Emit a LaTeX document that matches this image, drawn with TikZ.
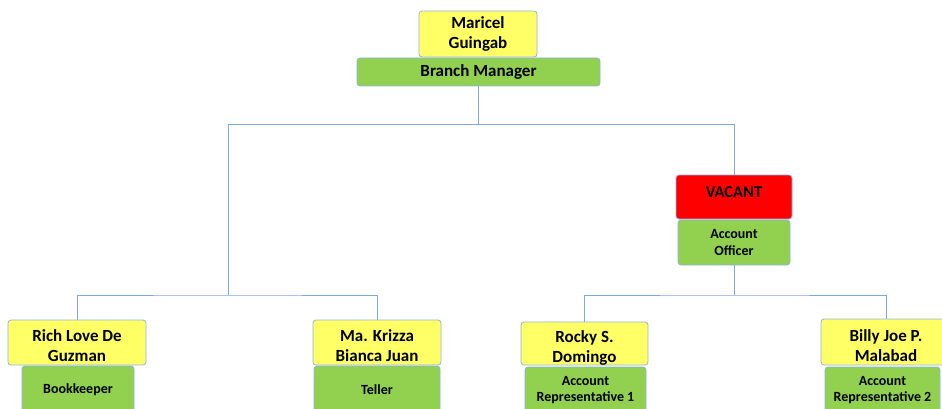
\documentclass[tikz,border=0pt]{standalone}
\usepackage{fontspec}
\setmainfont{Carlito}
\newcommand{\twoline}[3]{\raisebox{#1}[\height][\depth]{\begin{tabular}{@{}c@{}}#2\\#3\end{tabular}}}
\begin{document}
\begin{tikzpicture}[x=1pt,y=1pt,
  box/.style={draw=bordc, line width=0.8pt, rounded corners=3pt, align=center, inner sep=0pt},
  namebox/.style={box, fill=yelc, font=\bfseries\fontsize{17}{20}\selectfont},
  bnamebox/.style={draw=bordc, line width=0.8pt, rounded corners=3pt, inner sep=0pt, fill=yelc, font=\bfseries\fontsize{17}{20}\selectfont},
  rolebox/.style={box, fill=grnc, font=\bfseries\fontsize{14}{16.5}\selectfont},
  vacbox/.style={draw=bordc, line width=0.8pt, rounded corners=3pt, inner sep=0pt, fill=redc, font=\bfseries\fontsize{16.5}{20}\selectfont},
  link/.style={draw=linec, line width=0.9pt}]
\definecolor{bordc}{HTML}{8EB4E3}
\definecolor{linec}{HTML}{7FA8DC}
\definecolor{yelc}{HTML}{FFFF66}
\definecolor{grnc}{HTML}{92D050}
\definecolor{redc}{HTML}{FF0000}
\useasboundingbox (0,0) rectangle (942,-409);
\clip (0,0) rectangle (942,-409);
\fill[white] (0,0) rectangle (942,-409);

% coordinates
\coordinate (jL) at (228,-124);
\coordinate (jR) at (734,-124);
\coordinate (kL) at (228,-295);
\coordinate (kR) at (734,-295);

% top
\node[namebox, minimum width=118pt, minimum height=46pt] (mg) at (478,-34) {Maricel\\Guingab};
\node[rolebox, font=\bfseries\fontsize{17}{20}\selectfont, minimum width=243pt, minimum height=28pt] (bm) at (478.5,-72) {Branch Manager};

% vacant / account officer
\node[vacbox, minimum width=116pt, minimum height=44pt] (vac) at (734,-197) {\raisebox{5pt}[\height][\depth]{VACANT}};
\node[rolebox, minimum width=112pt, minimum height=45pt] (ao) at (734,-242.5) {Account\\Officer};

% bottom names
\node[bnamebox, minimum width=138pt, minimum height=45pt] (rich) at (77,-342.5) {\twoline{-5pt}{Rich Love De}{Guzman}};
\node[bnamebox, minimum width=128pt, minimum height=45pt] (kriz) at (377,-342.5) {\twoline{-5pt}{Ma. Krizza}{Bianca Juan}};
\node[bnamebox, minimum width=127pt, minimum height=43pt] (rock) at (584.5,-343.5) {\twoline{-5pt}{Rocky S.}{Domingo}};
\node[bnamebox, minimum width=130pt, minimum height=46pt] (bill) at (886,-342) {\twoline{-5pt}{Billy Joe P.}{Malabad}};

% bottom roles
\node[rolebox, minimum width=112pt, minimum height=48pt] (bk) at (78,-390) {Bookkeeper};
\node[rolebox, minimum width=126pt, minimum height=48pt] (tel) at (377,-390) {Teller};
\node[rolebox, minimum width=121pt, minimum height=46pt] (ar1) at (585.5,-390) {Account\\Representative 1};
\node[rolebox, minimum width=115pt, minimum height=46pt] (ar2) at (882.5,-390) {Account\\Representative 2};

% connectors
\draw[link] (bm.south) -- (bm.south |- jL);
\draw[link] (jL) -- (jR);
\draw[link] (jR) -- (vac.north);
\draw[link] (jL) -- (kL);
\draw[link] (rich.north) |- (kL) -| (kriz.north);
\draw[link] (ao.south) -- (kR);
\draw[link] (rock.north) |- (kR) -| (bill.north);
\end{tikzpicture}
\end{document}
